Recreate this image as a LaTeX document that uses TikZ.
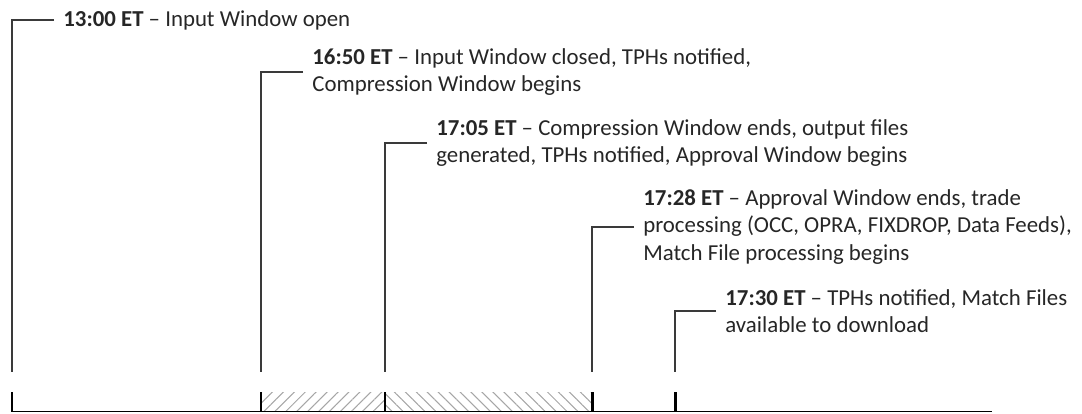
\documentclass[tikz,border=0pt]{standalone}
\usepackage{fontspec}
\setmainfont{Carlito}
\usetikzlibrary{patterns.meta}
\definecolor{dark}{HTML}{262626}
\definecolor{linegray}{HTML}{3A3A3A}
\definecolor{hatch}{HTML}{A6A6A6}
\tikzset{
  lbl/.style={anchor=west, align=left, text=dark, inner xsep=0.18cm, inner ysep=0pt,
    font={\fontsize{13}{15.7}\selectfont}},
  leader/.style={draw=linegray, line width=0.75pt},
  tick/.style={draw=black, line width=1.7pt},
  axis/.style={draw=black, line width=0.8pt},
  hatchne/.style={pattern={Lines[angle=45,distance=4.4pt,line width=0.6pt]}, pattern color=hatch},
  hatchnw/.style={pattern={Lines[angle=-45,distance=4.4pt,line width=0.6pt]}, pattern color=hatch}
}
\begin{document}
\begin{tikzpicture}[x=0.02cm, y=-0.02cm]
  \useasboundingbox (0,0) rectangle (1082,413);
  % timeline
  \fill[hatchne] (261,392) rectangle (385,411.5);
  \fill[hatchnw] (385,392) rectangle (592,411.5);
  \draw[axis] (12,411.5) -- (992,411.5);
  \foreach \x/\n in {12/1,261/2,385/3,592/4,675/5} {
    \coordinate (b\n) at (\x,372);
    \draw[tick] (\x,392) -- (\x,411.5);
  }
  % labels
  \node[lbl] (l1) at (54,20) {\textbf{13:00 ET} -- Input Window open};
  \node[lbl] (l2) at (303,72) {\textbf{16:50 ET} -- Input Window closed, TPHs notified,\\Compression Window begins};
  \node[lbl] (l3) at (427,143) {\textbf{17:05 ET} -- Compression Window ends, output files\\generated, TPHs notified, Approval Window begins};
  \node[lbl] (l4) at (634,227) {\textbf{17:28 ET} -- Approval Window ends, trade\\processing (OCC, OPRA, FIXDROP, Data Feeds),\\Match File processing begins};
  \node[lbl] (l5) at (716,311) {\textbf{17:30 ET} -- TPHs notified, Match Files\\available to download};
  \foreach \n in {1,...,5}
    \draw[leader] (l\n.west) -| (b\n);
\end{tikzpicture}
\end{document}
